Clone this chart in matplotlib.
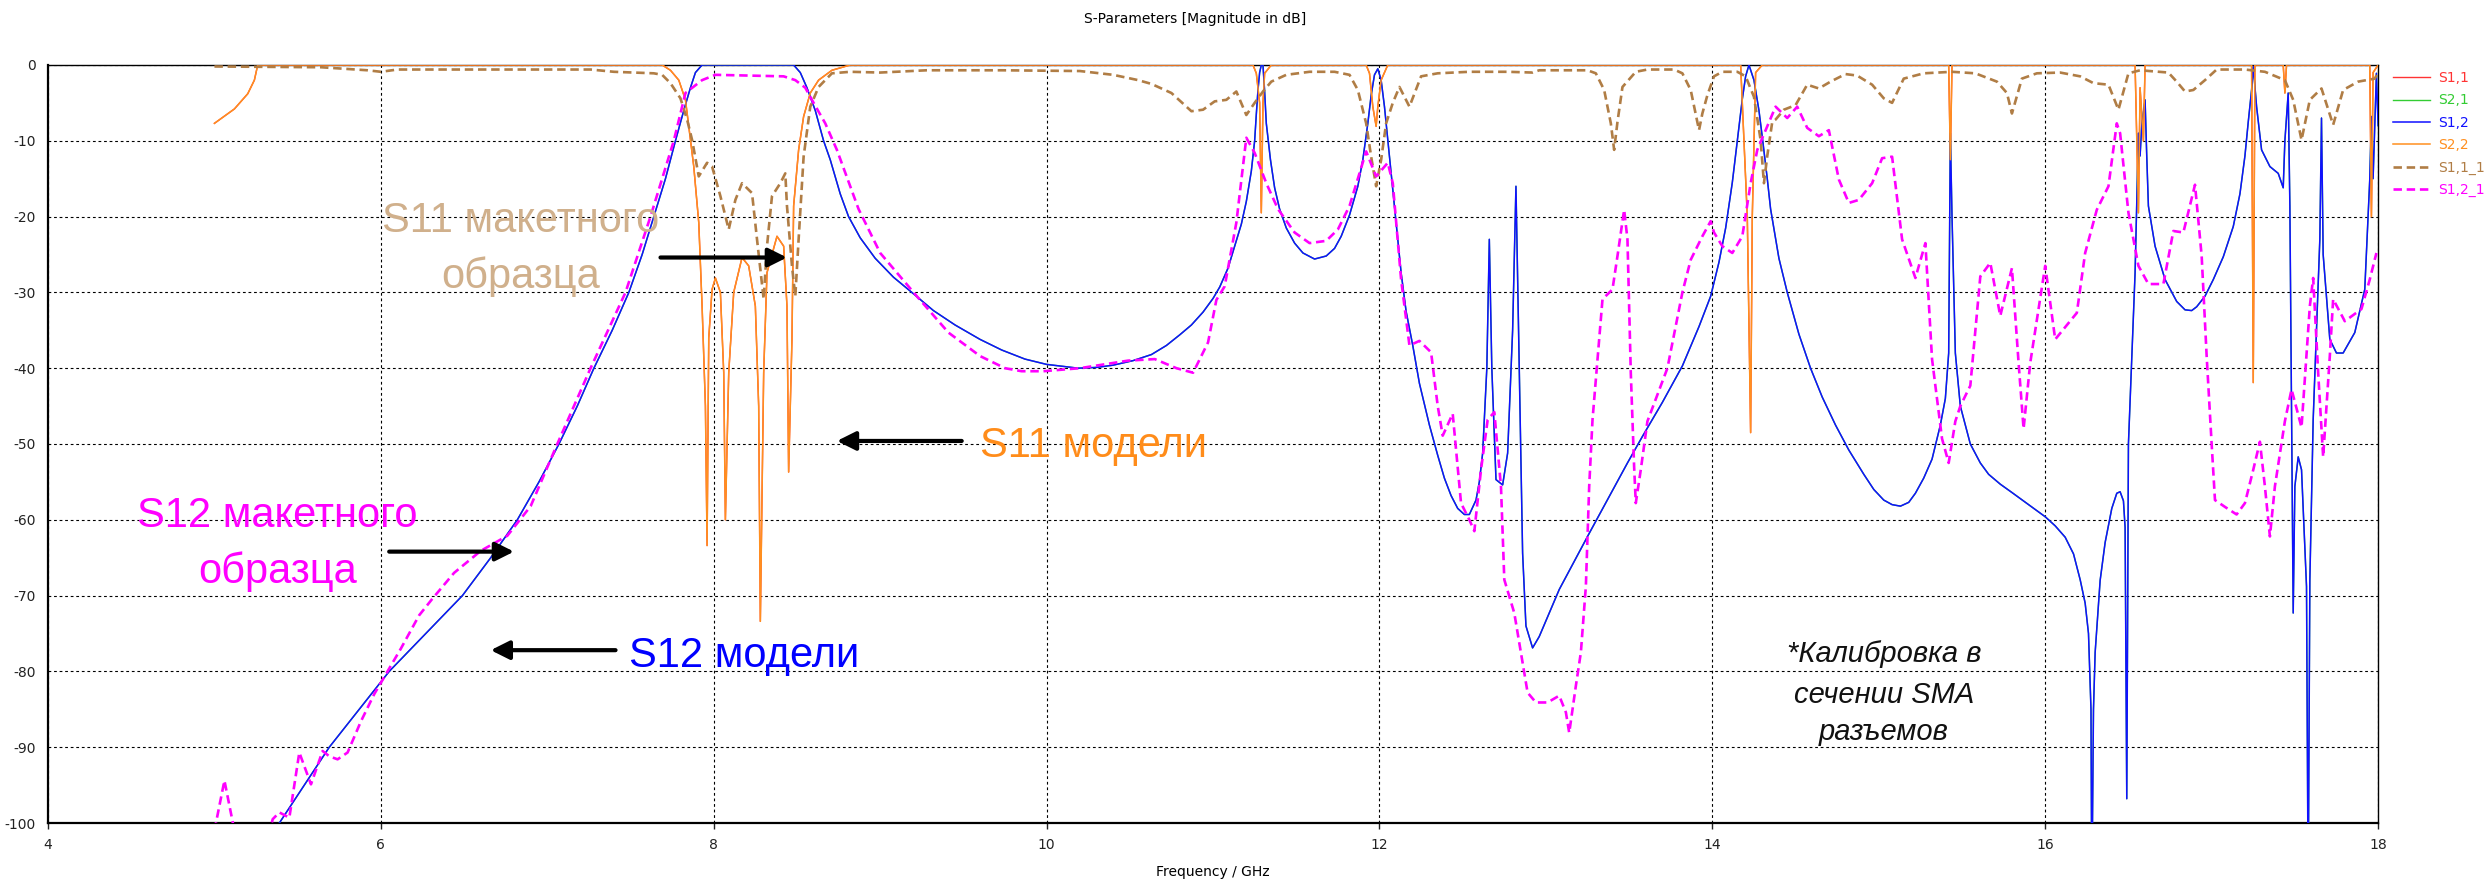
import matplotlib
matplotlib.use("Agg")
import matplotlib.pyplot as plt

plt.rcParams['axes.unicode_minus'] = False
plt.rcParams['font.family'] = ['DejaVu Sans']

# ---------------- data (GHz, dB) ----------------
# model S12 (blue)
f_s12_model = [5.30, 5.39, 5.69, 6.05, 6.27, 6.49, 6.66, 6.82, 6.95, 7.07, 7.18, 7.28, 7.39, 7.49, 7.57,
               7.64, 7.71, 7.77, 7.82, 7.86, 7.89, 7.93, 8.48, 8.52, 8.56, 8.61, 8.66, 8.70, 8.76, 8.81,
               8.88, 8.97, 9.08, 9.19, 9.32, 9.45, 9.60, 9.73, 9.87, 10.0, 10.19, 10.3, 10.4, 10.52, 10.63,
               10.72, 10.80, 10.87, 10.94, 11.0, 11.04, 11.09, 11.13, 11.17, 11.2, 11.23, 11.25, 11.26,
               11.27, 11.28, 11.29, 11.30, 11.31, 11.32, 11.345, 11.37, 11.40, 11.44, 11.49, 11.54, 11.61,
               11.68, 11.73, 11.77, 11.82, 11.87, 11.90, 11.93, 11.95, 11.97, 11.99, 12.01, 12.03, 12.05,
               12.08, 12.10, 12.13, 12.16, 12.20, 12.24, 12.30, 12.35, 12.39, 12.43, 12.47, 12.51, 12.54,
               12.58, 12.60, 12.62, 12.645, 12.66, 12.675, 12.70, 12.74, 12.77, 12.80, 12.82, 12.84, 12.86,
               12.88, 12.92, 12.96, 13.08, 13.25, 13.49, 13.58, 13.70, 13.82, 13.92, 13.99, 14.04, 14.08,
               14.12, 14.15, 14.18, 14.20, 14.22, 14.25, 14.28, 14.30, 14.33, 14.35, 14.40, 14.45, 14.52,
               14.59, 14.66, 14.74, 14.82, 14.91, 14.97, 15.03, 15.08, 15.13, 15.18, 15.22, 15.27, 15.32,
               15.37, 15.40, 15.42, 15.43, 15.44, 15.46, 15.49, 15.55, 15.61, 15.66, 15.73, 15.80, 15.90,
               16.0, 16.06, 16.12, 16.17, 16.21, 16.24, 16.26, 16.275, 16.28, 16.29, 16.30, 16.33, 16.36,
               16.40, 16.43, 16.45, 16.47, 16.48, 16.49, 16.50, 16.54, 16.56, 16.57, 16.58, 16.60, 16.61,
               16.62, 16.66, 16.72, 16.79, 16.84, 16.88, 16.91, 16.96, 17.01, 17.07, 17.13, 17.17, 17.20,
               17.22, 17.24, 17.25, 17.27, 17.30, 17.35, 17.40, 17.43, 17.44, 17.46, 17.47, 17.48, 17.49,
               17.50, 17.52, 17.54, 17.57, 17.58, 17.59, 17.61, 17.65, 17.66, 17.67, 17.71, 17.75, 17.79,
               17.86, 17.92, 17.95, 17.96, 17.97, 17.99, 18.0]
db_s12_model = [-104, -100, -90, -80, -75, -70, -65, -60, -55, -50, -45, -40, -35, -30, -25,
                -20, -15, -10, -6, -3, -1, 0, 0, -1, -3, -6, -10, -12.5, -17, -20,
                -22.8, -25.5, -28, -30, -32.4, -34.3, -36.2, -37.6, -38.8, -39.5, -40.0, -39.9, -39.6, -39.0, -38.2,
                -37.0, -35.6, -34.3, -32.6, -30.8, -29.3, -26.8, -23.9, -21, -18, -14, -10, -6.5,
                -3.3, -1, 0, 0, -3.5, -7.7, -12.5, -16.2, -19, -21.5, -23.5, -24.8, -25.6,
                -25.2, -24.2, -22.6, -19.8, -16, -12.5, -7.7, -4, -1.3, -0.5, -2, -5.5, -9.9,
                -16.4, -21, -27.4, -32.5, -37, -42, -47.5, -51.5, -54.5, -56.8, -58.5, -59.3, -59.3,
                -57.4, -55, -51.2, -40, -23, -40, -54.7, -55.4, -51.2, -35, -16, -40, -64.4,
                -74, -76.9, -75.4, -69.2, -62.2, -52.5, -49, -44.5, -39.7, -34.5, -30.5, -26, -21.5,
                -15.5, -10, -4.5, -1.5, 0, -2, -6, -9.5, -15, -19, -25.5, -30, -35.5,
                -40, -43.8, -47.5, -50.8, -54, -56, -57.4, -58, -58.2, -57.7, -56.5, -54.5, -52,
                -47.5, -44, -38, -9, -20, -38, -45, -50, -52.5, -54, -55.3, -56.4, -58,
                -59.6, -60.8, -62.3, -64.5, -67.9, -71, -75, -85, -110, -85, -77.5, -68, -63,
                -58.5, -56.5, -56.3, -57.5, -61, -96.8, -50, -27.4, -9, -12, -8, -4.6, -12,
                -18.6, -23.9, -28.3, -31.2, -32.3, -32.4, -31.9, -30.5, -28.3, -25.3, -21.3, -17, -12,
                -7.5, -3.3, -0.2, -5.5, -11.2, -13.4, -14.3, -16.2, -10, -3.7, -18.6, -45, -72.3,
                -55.6, -51.7, -53.4, -68.8, -110, -68, -46.8, -23, -7, -25, -36.2, -38, -38,
                -35.3, -29.6, -15.1, -6.8, -15, -1.1, -8]

# model S11 (orange, drawn as S2,2)
f_s11_model = [5.00, 5.12, 5.20, 5.24, 5.26, 7.69, 7.74, 7.79, 7.83, 7.85, 7.88, 7.91, 7.93, 7.95, 7.96,
               7.97, 7.99, 8.01, 8.04, 8.06, 8.07, 8.09, 8.12, 8.17, 8.21, 8.25, 8.27, 8.28, 8.30, 8.32,
               8.38, 8.42, 8.44, 8.45, 8.47, 8.48, 8.51, 8.54, 8.58, 8.63, 8.71, 8.82, 11.24, 11.26, 11.28,
               11.29, 11.30, 11.31, 11.35, 11.92, 11.94, 11.96, 11.98, 11.99, 12.01, 12.05, 14.17, 14.21,
               14.23, 14.24, 14.26, 14.30, 15.42, 15.43, 15.44, 16.54, 16.56, 16.57, 16.59, 16.60, 17.24,
               17.25, 17.26, 17.43, 17.44, 17.45, 17.95, 17.96, 17.97, 18.0]
db_s11_model = [-7.7, -5.8, -3.8, -2, 0, 0, -0.7, -2, -4.6, -8.1, -13.4, -20.8, -31.8, -45, -63.4,
                -36, -29.6, -28.1, -30, -40.6, -60, -40.6, -30, -25.4, -26.5, -31.8, -45, -73.4, -40.6, -27.4,
                -22.6, -23.9, -31.8, -53.7, -36.2, -18.6, -11.2, -6.8, -3.7, -2, -0.7, 0, 0, -1.1, -5,
                -19.5, -5, -1.1, 0, 0, -1.1, -5.5, -8.1, -5.5, -2, 0, 0, -20,
                -48.5, -20, -1, 0, 0, -12.5, 0, 0, -19.5, -3, -10, 0, 0,
                -41.9, 0, 0, -3.7, 0, 0, -20, -1, 0]

# measured S11 (brown dashed)
f_s11_meas = [5.0, 5.64, 5.92, 6.0, 6.1, 6.59, 7.26, 7.4, 7.64, 7.69, 7.74, 7.8, 7.84, 7.87, 7.91, 7.96,
              7.99, 8.04, 8.09, 8.13, 8.17, 8.23, 8.26, 8.3, 8.32, 8.35, 8.4, 8.43, 8.44, 8.47, 8.49, 8.51,
              8.54, 8.58, 8.63, 8.71, 8.82, 9.0, 9.28, 9.73, 10.0, 10.2, 10.4, 10.55, 10.63, 10.75, 10.87,
              10.94, 11.01, 11.08, 11.14, 11.2, 11.25, 11.3, 11.35, 11.44, 11.58, 11.73, 11.82, 11.87,
              11.92, 11.95, 11.98, 12.01, 12.04, 12.08, 12.12, 12.18, 12.25, 12.35, 12.54, 12.77, 12.92,
              12.96, 13.25, 13.3, 13.35, 13.39, 13.41, 13.43, 13.46, 13.54, 13.61, 13.77, 13.82, 13.87,
              13.92, 13.94, 13.97, 14.01, 14.06, 14.15, 14.2, 14.25, 14.29, 14.31, 14.33, 14.36, 14.38,
              14.43, 14.5, 14.57, 14.64, 14.71, 14.8, 14.87, 14.96, 15.03, 15.08, 15.15, 15.27, 15.44,
              15.58, 15.71, 15.77, 15.8, 15.86, 15.95, 16.09, 16.21, 16.29, 16.38, 16.44, 16.5, 16.57,
              16.74, 16.79, 16.84, 16.89, 16.96, 17.03, 17.2, 17.32, 17.44, 17.49, 17.54, 17.59, 17.66,
              17.73, 17.79, 17.88, 17.98, 18.0]
db_s11_meas = [-0.2, -0.3, -0.7, -0.9, -0.6, -0.6, -0.6, -0.9, -1.1, -1.3, -2.4, -4.4, -7.2, -9.9, -14.7, -12.9,
               -13.4, -17.3, -21.7, -17.8, -15.6, -16.9, -23, -30.9, -23.9, -17.3, -15.6, -14.3, -18.6, -26.5, -30.5, -23,
               -12.1, -5.5, -2.9, -1.1, -0.9, -1.0, -0.7, -0.7, -0.75, -0.8, -1.3, -2, -2.5, -3.7, -6.1,
               -5.9, -4.8, -4.6, -3.5, -6.6, -5, -3.5, -2.2, -1.3, -0.9, -0.9, -1.3, -3.3,
               -7.7, -12.1, -16, -12.5, -7.7, -5, -2.9, -5.5, -1.5, -1.1, -0.9, -0.9, -1.0,
               -0.7, -0.7, -1.1, -3.3, -7.7, -11.2, -7.5, -2.9, -0.9, -0.6, -0.6, -1.1, -3.3,
               -8.6, -6.4, -4, -1.5, -0.9, -0.9, -1.5, -4.2, -9.9, -15.6, -12, -7.5, -7.2,
               -5.9, -5.3, -2.6, -3.1, -2.2, -1.2, -1.4, -2.6, -4.4, -5, -1.8, -1.1, -0.9,
               -1.1, -2.2, -3.7, -6.4, -1.8, -1.1, -1.0, -1.5, -2.4, -2.6, -5.9, -1.1, -0.7,
               -1.0, -2.2, -3.5, -3.3, -2.0, -0.6, -0.6, -0.9, -2.0, -4.6, -9.9, -4.6, -3.1,
               -7.9, -3.3, -2.2, -1.8, -1.0]

# measured S12 (magenta dashed)
f_s12_meas = [5.00, 5.06, 5.12, 5.30, 5.35, 5.39, 5.45, 5.51, 5.58, 5.65, 5.69, 5.74, 5.80, 5.88, 5.96,
              6.04, 6.12, 6.23, 6.31, 6.44, 6.60, 6.76, 6.90, 7.06, 7.26, 7.47, 7.62, 7.76, 7.83, 7.93,
              8.01, 8.42, 8.49, 8.55, 8.60, 8.67, 8.74, 8.87, 9.0, 9.22, 9.41, 9.6, 9.75, 9.85, 9.98,
              10.2, 10.49, 10.65, 10.78, 10.88, 10.97, 11.02, 11.07, 11.14, 11.2, 11.25, 11.32, 11.39,
              11.49, 11.58, 11.68, 11.75, 11.82, 11.88, 11.92, 11.98, 12.05, 12.08, 12.13, 12.18, 12.24,
              12.31, 12.35, 12.38, 12.44, 12.49, 12.54, 12.57, 12.61, 12.65, 12.69, 12.73, 12.75, 12.81,
              12.87, 12.89, 12.94, 13.01, 13.08, 13.12, 13.14, 13.18, 13.21, 13.24, 13.26, 13.28, 13.32,
              13.34, 13.4, 13.43, 13.47, 13.49, 13.51, 13.53, 13.54, 13.57, 13.61, 13.73, 13.82, 13.87,
              13.94, 13.99, 14.01, 14.06, 14.12, 14.18, 14.23, 14.27, 14.32, 14.38, 14.45, 14.51, 14.57,
              14.64, 14.7, 14.76, 14.82, 14.88, 14.96, 15.02, 15.08, 15.14, 15.22, 15.28, 15.32, 15.38,
              15.42, 15.46, 15.49, 15.55, 15.61, 15.67, 15.73, 15.8, 15.84, 15.87, 15.91, 16.0, 16.06,
              16.19, 16.24, 16.31, 16.38, 16.43, 16.45, 16.5, 16.56, 16.62, 16.71, 16.77, 16.83, 16.9,
              16.94, 16.97, 17.0, 17.02, 17.08, 17.15, 17.2, 17.25, 17.29, 17.32, 17.35, 17.38, 17.44,
              17.48, 17.54, 17.59, 17.61, 17.64, 17.67, 17.71, 17.73, 17.8, 17.9, 17.95, 17.99]
db_s12_meas = [-101, -94.4, -101, -104, -99.5, -98.6, -99.3, -90.7, -94.9, -90.5, -91.2, -91.6, -90.7, -86.6, -83,
               -80, -77, -72.6, -70.4, -67, -64.1, -62.1, -58.2, -50, -40, -30, -20, -10, -3.7, -2,
               -1.3, -1.5, -2, -3, -5, -7.7, -11.2, -19, -24.8, -30.5, -35.3, -38.4, -40, -40.4, -40.4,
               -40, -39, -38.8, -40, -40.6, -36.6, -31, -29.2, -20.8, -9.6, -11.6, -15.6, -19,
               -22.1, -23.5, -23.2, -21.7, -18.6, -14.3, -11.4, -14.7, -12.9, -15.6, -28.3, -37, -36.4,
               -37.9, -45, -48.9, -46, -57.8, -60, -61.5, -53.4, -46.8, -45.8, -55.6, -67.9, -72.3,
               -80.2, -82.8, -84.1, -84.1, -83.2, -85.4, -88.1, -81.9, -77.5, -68.8, -55.6, -46.8, -36.2,
               -30.9, -29.6, -25.2, -19.1, -23, -40.6, -53, -57.8, -53.4, -47, -40, -30, -25.7,
               -22.6, -20.6, -22.1, -23.9, -24.8, -22.6, -15.6, -11.2, -8.6, -5.5, -7, -5.5, -8.3,
               -9.4, -8.6, -15.1, -18.2, -17.8, -15.6, -12.3, -12.1, -23, -28.1, -23.5, -38.8, -49.3,
               -52.5, -47, -45, -42.3, -27.9, -26.1, -33.1, -26.8, -39.3, -48, -39.3, -26.5, -36.2,
               -32.7, -24.8, -19.1, -16, -7.7, -9, -19.5, -26.5, -28.9, -28.9, -21.9, -22.1, -15.8,
               -25.2, -38.4, -50, -57.4, -58.3, -59.3, -57.8, -53.4, -49.7, -55.6, -62.2, -55.6, -47,
               -42.8, -47.8, -31.8, -28.1, -40.6, -51.7, -38.4, -30.9, -33.8, -32.2, -28.3, -24.8]

series_labels = ["S1,1", "S2,1", "S1,2", "S2,2", "S1,1_1", "S1,2_1"]
x_ticks = [4, 6, 8, 10, 12, 14, 16, 18]
y_ticks = [0, -10, -20, -30, -40, -50, -60, -70, -80, -90, -100]

# ---------------- figure ----------------
fig = plt.figure(figsize=(24.91, 8.84), dpi=100)
ax = fig.add_axes([0.01927, 0.069, 0.9354, 0.8575])

# S1,1 / S2,1 of the symmetric model lie under S2,2 / S1,2
ax.plot(f_s11_model, db_s11_model, color='#FF3333', lw=1.0, label=series_labels[0], zorder=3)
ax.plot(f_s12_model, db_s12_model, color='#33CC33', lw=1.0, label=series_labels[1], zorder=3)
ax.plot(f_s12_model, db_s12_model, color='#1010FF', lw=1.1, label=series_labels[2], zorder=3)
ax.plot(f_s11_model, db_s11_model, color='#FF8F1F', lw=1.1, label=series_labels[3], zorder=3)
ax.plot(f_s11_meas, db_s11_meas, color='#B07D45', lw=1.9, ls=(0, (3.2, 1.8)), label=series_labels[4], zorder=3)
ax.plot(f_s12_meas, db_s12_meas, color='#FF00FF', lw=1.9, ls=(0, (3.2, 1.8)), label=series_labels[5], zorder=3)

ax.set_xlim(4, 18)
ax.set_ylim(-100, 0)
ax.set_xticks(x_ticks)
ax.set_yticks(y_ticks)
ax.grid(True, color='black', ls=(0, (2.5, 2.5)), lw=0.8)
ax.tick_params(axis='x', length=4.5, width=1, pad=6, labelsize=10, colors='#222222')
ax.tick_params(axis='y', length=0, pad=9, labelsize=10, colors='#222222')
for s in ['left', 'bottom']:
    ax.spines[s].set_linewidth(1.6)
for s in ['top', 'right']:
    ax.spines[s].set_linewidth(1.0)

fig.text(0.4797, 0.9785, "S-Parameters [Magnitude in dB]", ha='center', va='center', fontsize=10)
ax.set_xlabel("Frequency / GHz", fontsize=10)
ax.xaxis.set_label_coords(0.5, -0.0646)
ax.xaxis.label.set_va('center')

leg = ax.legend(loc='upper left', bbox_to_anchor=(1.0064, 0.992), frameon=False, fontsize=10,
                handlelength=2.7, handletextpad=0.55, labelspacing=0.6, borderpad=0, borderaxespad=0,
                labelcolor='linecolor')

# ---------------- annotations ----------------
big = dict(fontsize=30, family=['Liberation Sans', 'DejaVu Sans'], va='baseline', ha='center')
ax.text(6.84, -22.0, "S11 макетного", color='#D0B08C', **big)
ax.text(6.84, -29.4, "образца", color='#D0B08C', **big)
ax.text(5.38, -60.9, "S12 макетного", color='#FF00FF', **big)
ax.text(5.38, -68.3, "образца", color='#FF00FF', **big)
ax.text(9.60, -51.7, "S11 модели", color='#FF8C1A', fontsize=30, family=['Liberation Sans', 'DejaVu Sans'],
        va='baseline', ha='left')
ax.text(7.49, -79.4, "S12 модели", color='#0000FF', fontsize=30, family=['Liberation Sans', 'DejaVu Sans'],
        va='baseline', ha='left')

note = dict(fontsize=21, family=['Liberation Sans', 'DejaVu Sans'], style='italic', va='baseline',
            ha='center', color='#111111')
ax.text(15.03, -78.7, "*Калибровка в", **note)
ax.text(15.03, -84.2, "сечении SMA", **note)
ax.text(15.03, -89.1, "разъемов", **note)

arrow = dict(arrowstyle='-|>', color='black', lw=3, mutation_scale=28, shrinkA=0, shrinkB=0)
ax.annotate('', xy=(8.44, -25.4), xytext=(7.68, -25.4), arrowprops=arrow)
ax.annotate('', xy=(8.74, -49.6), xytext=(9.49, -49.6), arrowprops=arrow)
ax.annotate('', xy=(6.80, -64.2), xytext=(6.05, -64.2), arrowprops=arrow)
ax.annotate('', xy=(6.66, -77.2), xytext=(7.41, -77.2), arrowprops=arrow)

fig.savefig("out.png", dpi=100)
